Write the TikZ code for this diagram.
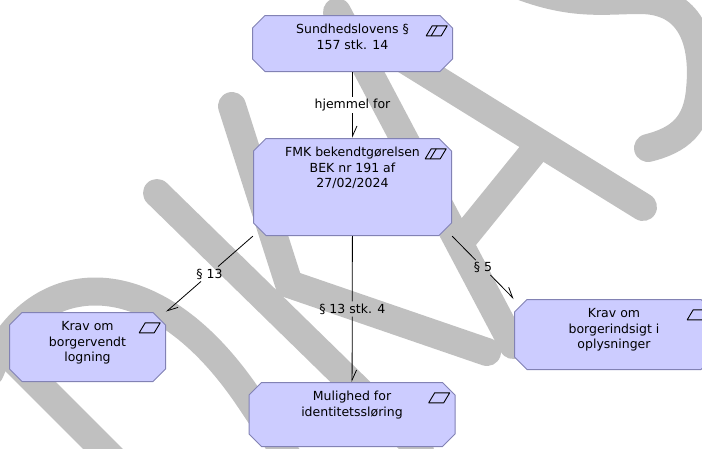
\documentclass[tikz,border=0pt]{standalone}
\usepackage{fontspec}
\setmainfont{DejaVu Sans}
\usetikzlibrary{arrows.meta,calc}

\definecolor{boxfill}{RGB}{204,204,255}
\definecolor{boxline}{RGB}{130,130,180}
\definecolor{wmgray}{RGB}{192,192,192}

\newcommand{\cardtext}[3]{\parbox[c][#2][t]{#1}{\centering\rule{0pt}{18.5pt}#3}}

\begin{document}
\begin{tikzpicture}
      [ x = 1pt, y = -1pt
      , every node/.style =
        { font = \fontsize{12.5}{15.7}\selectfont }
      , card/.style =
        { rectangle, inner sep = 0pt
        , path picture =
          { \path [fill = boxfill, draw = boxline, line width = 1pt]
              ([xshift = 13pt, yshift = -.5pt]path picture bounding box.north west)
              -- ([xshift = -13pt, yshift = -.5pt]path picture bounding box.north east)
              -- ([xshift = -.5pt, yshift = -13pt]path picture bounding box.north east)
              -- ([xshift = -.5pt, yshift = 13pt]path picture bounding box.south east)
              -- ([xshift = -13pt, yshift = .5pt]path picture bounding box.south east)
              -- ([xshift = 13pt, yshift = .5pt]path picture bounding box.south west)
              -- ([xshift = .5pt, yshift = 13pt]path picture bounding box.south west)
              -- ([xshift = .5pt, yshift = -13pt]path picture bounding box.north west)
              -- cycle;
          }
        }
      , icon/.style =
        { draw, line width = .9pt, line join = round }
      , wm/.style =
        { draw = wmgray, line width = 28pt, line cap = round }
      , reltext/.style =
        { inner sep = 2pt }
      , rel/.style =
        { line width = .8pt }
      , relarrow/.style =
        { rel, -{Straight Barb[left, length = 10pt, width = 9pt]} }
      ]
      \useasboundingbox (0,0) rectangle (702,448);
      \clip (0,0) rectangle (702,448);
      % watermark
      \begin{scope}[wm]
        \draw (157,193) -- (420,450);
        \draw (-10,372) .. controls (30,270) and (150,250) .. (250,400) -- (290,460);
        \draw (-5,341) -- (120,466);
        \draw [line join = miter] (232,106) -- (289,284) -- (487,352);
        \draw (337,12) -- (513,345);
        \draw (365,35) -- (643,207);
        \draw (535,150) -- (462,240);
        \draw (495,-25) .. controls (565,8) and (600,0) .. (640,0)
          .. controls (690,0) and (705,40) .. (700,90)
          .. controls (697,125) and (680,140) .. (648,148);
      \end{scope}
      % cards
      \node [card] (sund) at (352.5,43.5)
        {\cardtext{201pt}{57pt}{Sundhedslovens §\\157 stk. 14}};
      \node [card] (fmk) at (352.5,187)
        {\cardtext{199pt}{98pt}{FMK bekendtgørelsen\\BEK nr 191 af\\27/02/2024}};
      \node [card] (logning) at (87.5,347)
        {\cardtext{157pt}{70pt}{Krav om\\borgervendt\\logning}};
      \node [card] (indsigt) at (614,334.5)
        {\cardtext{200pt}{71pt}{Krav om\\borgerindsigt i\\oplysninger}};
      \node [card] (sloering) at (352,414.5)
        {\cardtext{207pt}{65pt}{Mulighed for\\identitetssløring}};
      \foreach \n in {sund, fmk, logning, indsigt, sloering}
        \draw [icon] ([xshift = -27pt, yshift = -21pt]\n.north east)
          -- ++(6,-10) -- ++(15,0) -- ++(-6,10) -- cycle;
      \foreach \n in {sund, fmk}
        \draw [icon] ([xshift = -22pt, yshift = -21pt]\n.north east) -- ++(6,-10);
      % relations
      \node [reltext] (hjem) at ($(sund.south)!.5!(fmk.north)$) {hjemmel for};
      \node [reltext] (p13s4) at ($(fmk.south)!.5!(sloering.north)$) {§ 13 stk. 4};
      \node [reltext] (p13) at ($(fmk.south west)!.5!(logning.north east)$) {§ 13};
      \node [reltext] (p5) at ($(fmk.south east)!.5!(indsigt.north west)$) {§ 5};
      \draw [rel] (sund) -- (hjem);
      \draw [relarrow] (hjem) -- (fmk);
      \draw [rel] (fmk) -- (p13s4);
      \draw [relarrow] (p13s4) -- (sloering);
      \draw [rel] (fmk.south west) -- (p13);
      \draw [relarrow] (p13) -- (logning.north east);
      \draw [rel] (fmk.south east) -- (p5);
      \draw [relarrow] (p5) -- (indsigt.north west);
\end{tikzpicture}
\end{document}
